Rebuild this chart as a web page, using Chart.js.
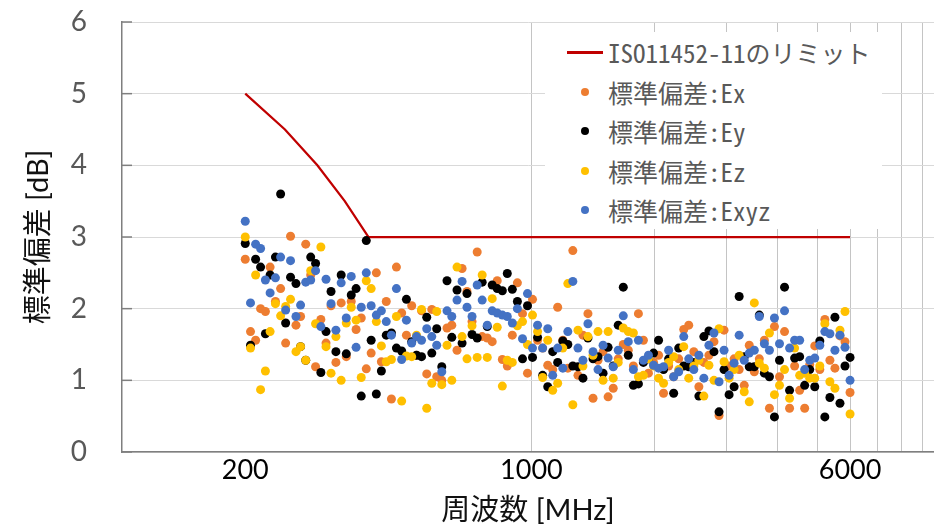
<!DOCTYPE html>
<html lang="ja">
<head>
<meta charset="utf-8">
<title>標準偏差</title>
<script src="https://cdn.jsdelivr.net/npm/chart.js@4.4.1/dist/chart.umd.min.js"></script>
<style>
  html, body { margin: 0; padding: 0; background: #fff; }
  #wrap { position: relative; width: 934px; height: 528px; overflow: hidden; }
  #legend {
    position: absolute; left: 545px; top: 32px; width: 337px; height: 197px; background: #fff;
    font-family: 'Noto Sans Mono CJK JP', 'Noto Sans CJK JP', monospace; font-size: 25px; color: #595959;
  }
  .item { position: absolute; left: 0; width: 100%; height: 30px; line-height: 30px; white-space: nowrap; }
  .item .mark { position: absolute; }
  .item .text { position: absolute; left: 63px; top: 0; }
</style>
</head>
<body>
<div id="wrap">
  <canvas id="stdChart" width="934" height="528"></canvas>
  <div id="legend"></div>
</div>
<script>
// 周波数 [MHz]
const freqMHz = [
  200, 206, 212, 218, 224, 230, 237, 244, 251, 258,
  266, 273, 281, 289, 297, 306, 315, 324, 333, 343,
  353, 363, 373, 384, 395, 406, 418, 430, 442, 455,
  468, 482, 495, 510, 524, 539, 555, 571, 587, 604,
  622, 639, 658, 677, 696, 716, 737, 758, 780, 802,
  825, 849, 873, 898, 924, 951, 978, 1006, 1035, 1065,
  1096, 1127, 1159, 1193, 1227, 1262, 1299, 1336, 1374, 1414,
  1454, 1496, 1539, 1584, 1629, 1676, 1724, 1774, 1825, 1877,
  1931, 1987, 2044, 2102, 2163, 2225, 2289, 2355, 2422, 2492,
  2564, 2637, 2713, 2791, 2872, 2954, 3039, 3126, 3216, 3309,
  3404, 3502, 3602, 3706, 3813, 3922, 4035, 4151, 4270, 4393,
  4519, 4649, 4783, 4920, 5062, 5207, 5357, 5511, 5669, 5832, 6000
];

// 標準偏差 [dB]
const stdEx = [
  2.69, 1.68, 1.56, 2.0, 1.96, 2.58, 2.1, 2.28, 1.52, 3.01,
  1.77, 1.89, 2.9, 2.47, 1.19, 1.85, 1.52, 2.04, 1.25, 2.08,
  1.33, 2.1, 1.71, 1.87, 1.16, 1.38, 2.5, 1.26, 2.1, 0.74,
  2.58, 1.94, 1.63, 2.04, 1.35, 1.97, 1.09, 1.99, 1.05, 1.0,
  1.73, 1.77, 1.42, 2.56, 2.24, 1.82, 2.79, 1.61, 1.59, 1.54,
  2.39, 1.29, 1.2, 1.63, 2.36, 1.93, 1.1, 2.13, 1.56, 1.45,
  1.21, 1.15, 2.02, 1.56, 1.17, 2.81, 1.07, 1.63, 1.93, 0.75,
  1.28, 1.4, 0.77, 0.89, 1.3, 1.5, 1.42, 1.2, 1.93, 1.56,
  1.1, 1.25, 1.35, 0.82, 1.2, 1.05, 1.3, 1.71, 1.77, 1.4,
  0.91, 1.25, 1.35, 1.54, 0.51, 1.7, 1.2, 1.3, 1.15, 0.93,
  1.49, 1.12, 1.3, 1.56, 0.61, 1.75, 1.05, 1.68, 0.61, 1.2,
  0.86, 0.61, 1.22, 1.48, 1.15, 1.85, 1.28, 1.17, 1.62, 1.54, 0.83
];
const stdEy = [
  2.91, 1.49, 2.69, 2.58, 1.65, 2.47, 2.72, 3.6, 1.8, 2.44,
  2.35, 1.47, 1.28, 2.72, 2.63, 1.11, 1.68, 2.24, 1.4, 2.47,
  1.37, 2.19, 2.28, 0.78, 2.95, 1.56, 0.81, 1.13, 1.63, 1.66,
  1.45, 1.41, 2.13, 1.54, 1.35, 1.33, 1.88, 1.38, 1.72, 1.19,
  2.39, 1.6, 2.26, 1.52, 2.21, 1.64, 1.59, 2.37, 1.75, 2.33,
  2.28, 2.25, 2.49, 2.27, 2.1, 1.3, 2.04, 1.32, 1.6, 1.07,
  0.91, 1.4, 1.25, 1.55, 1.5, 1.2, 1.19, 1.03, 1.59, 1.3,
  1.33, 1.1, 1.46, 1.2, 1.77, 2.3, 1.35, 0.93, 0.95, 1.25,
  1.3, 1.38, 1.56, 1.15, 1.3, 0.82, 1.45, 1.2, 1.19, 1.25,
  0.78, 1.61, 1.69, 1.4, 0.56, 1.15, 0.8, 0.91, 2.17, 1.33,
  1.19, 1.19, 1.91, 1.1, 1.05, 0.49, 1.28, 2.3, 0.86, 1.31,
  1.33, 0.93, 1.15, 0.91, 1.55, 0.49, 0.76, 1.88, 0.68, 1.2, 1.32
];
const stdEz = [
  3.0, 1.45, 2.47, 0.87, 1.13, 1.68, 2.07, 1.9, 2.03, 2.13,
  1.4, 1.47, 1.28, 2.53, 1.79, 2.86, 1.47, 1.1, 1.61, 1.0,
  1.8, 2.02, 1.84, 1.04, 2.39, 2.28, 1.82, 1.48, 1.26, 1.29,
  1.89, 0.71, 1.34, 1.33, 1.63, 1.99, 0.61, 0.96, 1.96, 0.94,
  1.49, 1.0, 2.58, 1.61, 1.3, 1.76, 1.32, 2.47, 1.32, 2.14,
  1.74, 0.92, 1.28, 1.25, 1.76, 1.82, 1.5, 1.91, 1.68, 1.04,
  1.56, 0.86, 0.96, 1.45, 2.35, 0.66, 1.7, 1.2, 1.61, 1.35,
  1.68, 1.0, 1.68, 1.03, 1.25, 1.73, 1.68, 1.66, 1.05, 1.07,
  1.3, 1.2, 1.03, 0.96, 1.25, 1.33, 1.15, 1.47, 1.03, 1.2,
  1.28, 0.78, 1.21, 1.0, 1.72, 1.26, 1.03, 1.15, 1.35, 0.84,
  0.7, 2.08, 1.24, 1.17, 1.66, 0.8, 0.93, 1.15, 0.75, 1.45,
  1.07, 1.1, 1.03, 1.03, 1.2, 1.79, 0.98, 0.89, 1.7, 1.96, 0.53
];
const stdExyz = [
  3.22, 2.08, 2.9, 2.84, 2.4, 2.22, 2.43, 2.72, 1.98, 2.67,
  1.89, 2.05, 2.37, 2.4, 2.53, 1.75, 2.41, 2.07, 1.7, 2.36,
  1.87, 2.45, 1.46, 2.02, 2.5, 2.04, 1.91, 1.97, 1.82, 1.63,
  2.28, 1.29, 1.84, 1.52, 1.61, 1.56, 1.72, 1.61, 1.49, 1.12,
  1.97, 1.89, 2.12, 2.38, 2.02, 1.89, 2.33, 2.12, 1.77, 1.97,
  1.94, 1.91, 1.89, 1.8, 2.0, 1.58, 2.21, 1.45, 1.77, 1.45,
  1.72, 1.07, 1.45, 1.17, 1.68, 2.38, 1.45, 1.28, 1.79, 1.4,
  1.15, 1.49, 1.31, 1.19, 1.42, 1.9, 1.54, 1.15, 1.56, 1.28,
  1.35, 1.21, 1.17, 1.19, 1.42, 1.05, 1.12, 1.61, 1.3, 1.15,
  1.35, 1.03, 1.49, 1.66, 0.98, 1.42, 1.07, 1.24, 1.63, 1.28,
  1.38, 1.42, 1.89, 1.51, 1.42, 1.87, 1.51, 1.97, 1.45, 1.56,
  1.56, 1.15, 1.28, 1.31, 1.49, 1.68, 1.65, 1.42, 1.63, 1.46, 1.0
];

// ISO 11452-11 のリミット
const limitFreq = [200, 250, 300, 350, 400, 6000];
const limitDb = [5, 4.5, 4, 3.5, 3, 3];

// 軸の目盛り
const xGridValues = [200, 1000, 2000, 3000, 4000, 5000, 6000, 7000, 8000, 9000];
const xTickLabels = [200, 1000, 6000];
const yTickValues = [0, 1, 2, 3, 4, 5, 6];

const toPoints = (xs, ys) => xs.map((x, i) => ({ x: x, y: ys[i] }));

const dotSeries = (label, values, color, order) => ({
  label: label,
  data: toPoints(freqMHz, values),
  backgroundColor: color,
  borderWidth: 0,
  pointRadius: 4.5,
  order: order,
});

// Excel 風の内向き目盛り
const innerTicks = {
  id: 'innerTicks',
  afterDraw: (chart) => {
    const { ctx, chartArea, scales } = chart;
    ctx.save();
    ctx.strokeStyle = '#7f7f7f';
    ctx.lineWidth = 1.5;
    yTickValues.forEach((v) => {
      const y = scales.y.getPixelForValue(v);
      ctx.beginPath();
      ctx.moveTo(chartArea.left, y);
      ctx.lineTo(chartArea.left + 10, y);
      ctx.stroke();
    });
    ctx.restore();
  }
};

const stdChart = new Chart(document.getElementById('stdChart'), {
  type: 'scatter',
  data: {
    datasets: [
      {
        label: 'ISO11452-11のリミット',
        data: toPoints(limitFreq, limitDb),
        showLine: true,
        borderColor: '#c00000',
        backgroundColor: '#c00000',
        borderWidth: 2.25,
        pointRadius: 0,
        order: 5,
      },
      dotSeries('標準偏差:Ex', stdEx, '#ed7d31', 4),
      dotSeries('標準偏差:Ey', stdEy, '#000000', 3),
      dotSeries('標準偏差:Ez', stdEz, '#ffc000', 2),
      dotSeries('標準偏差:Exyz', stdExyz, '#4472c4', 1),
    ]
  },
  options: {
    responsive: false,
    animation: false,
    events: [],
    layout: { autoPadding: false, padding: { top: 22, right: 0, bottom: 0, left: 0 } },
    plugins: {
      legend: { display: false },
      tooltip: { enabled: false },
    },
    scales: {
      x: {
        type: 'logarithmic',
        min: 100,
        max: 9620,
        afterBuildTicks: (scale) => {
          scale.ticks = xGridValues.map((v) => ({ value: v }));
        },
        afterFit: (scale) => {
          scale.height = 76;
          scale.paddingLeft = 0;
          scale.paddingRight = 0;
        },
        ticks: {
          autoSkip: false,
          maxRotation: 0,
          padding: 2,
          color: '#000',
          font: { family: 'Lato', size: 27 },
          callback: (value) => xTickLabels.includes(value) ? String(value) : '',
        },
        grid: {
          color: (ctx) => ctx.tick && ctx.tick.value === 200 ? 'rgba(0,0,0,0)' : '#c4c4c4',
          drawTicks: false,
        },
        border: { color: '#7f7f7f', width: 1.5 },
        title: {
          display: true,
          text: '周波数 [MHz]',
          color: '#111',
          font: { family: "Lato, 'Noto Sans CJK JP'", size: 29 },
          padding: { top: 7, bottom: 0 },
        },
      },
      y: {
        min: 0,
        max: 6,
        afterBuildTicks: (scale) => {
          scale.ticks = yTickValues.map((v) => ({ value: v }));
        },
        afterFit: (scale) => {
          scale.width = 122;
          scale.paddingTop = 10;
          scale.paddingBottom = 10;
        },
        ticks: {
          padding: 35,
          color: '#595959',
          font: { family: 'Lato', size: 28 },
        },
        grid: { color: '#d9d9d9', drawTicks: false },
        border: { color: '#7f7f7f', width: 1.5 },
        title: {
          display: true,
          text: '標準偏差 [dB]',
          color: '#111',
          font: { family: "Lato, 'Noto Sans CJK JP'", size: 29 },
          padding: { top: 21, bottom: 0 },
        },
      },
    },
  },
  plugins: [innerTicks],
});

// 凡例（グラフ内の白い枠）
const legendBox = document.getElementById('legend');
stdChart.data.datasets.forEach((ds, i) => {
  const item = document.createElement('div');
  item.className = 'item';
  item.style.top = (5 + i * 39.5) + 'px';
  const mark = document.createElement('span');
  mark.className = 'mark';
  if (ds.showLine) {
    Object.assign(mark.style, { left: '22px', top: '14px', width: '36px', height: '2.5px', background: ds.borderColor });
  } else {
    Object.assign(mark.style, { left: '36px', top: '11px', width: '8px', height: '8px', borderRadius: '50%', background: ds.backgroundColor });
  }
  const text = document.createElement('span');
  text.className = 'text';
  text.textContent = ds.label;
  item.appendChild(mark);
  item.appendChild(text);
  legendBox.appendChild(item);
});
</script>
</body>
</html>
